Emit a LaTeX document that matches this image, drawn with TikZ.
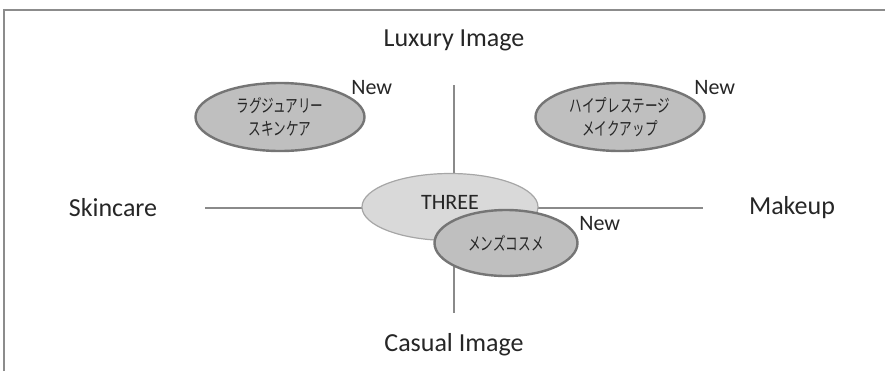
\documentclass[tikz,border=0pt]{standalone}
\usepackage{fontspec}
\setmainfont{Carlito}
\newfontfamily\jpfont{Noto Sans CJK JP}[FakeStretch=0.7]
\usetikzlibrary{shapes.geometric, positioning}
\definecolor{framegray}{HTML}{8C8C8C}
\definecolor{axisgray}{HTML}{8A8A8A}
\definecolor{ringgray}{HTML}{757575}
\definecolor{segfill}{HTML}{BFBFBF}
\definecolor{brandfill}{HTML}{D9D9D9}
\definecolor{brandring}{HTML}{A6A6A6}
\tikzstyle{axislabel} = [font=\fontsize{13}{15}\selectfont, text=black!85]
\tikzstyle{newtag} = [font=\fontsize{11}{13}\selectfont, text=black!85, inner sep=0pt]
\tikzstyle{segment} = [ellipse, minimum width=84.5pt, minimum height=34pt, inner sep=0pt, draw=ringgray, line width=1.2pt, fill=segfill, align=center, text=black!85, font=\jpfont\fontsize{9}{11.5}\selectfont]
\tikzstyle{brand} = [ellipse, minimum width=88pt, minimum height=33.5pt, inner sep=0pt, draw=brandring, line width=0.6pt, fill=brandfill, text=black!85, text height=8pt, text depth=6pt, font=\fontsize{11}{13}\selectfont]
\tikzstyle{axis} = [draw=axisgray, line width=0.6pt]
\tikzstyle{frame} = [draw=framegray, line width=0.9pt]

\begin{document}
\begin{tikzpicture}[x=0.5pt, y=-0.5pt]
\useasboundingbox (0,0) rectangle (885,371);
\draw [frame] (4,371) -- (4,10) -- (885,10);

\node (luxury) [axislabel] at (454,40) {Luxury Image};
\node (casual) [axislabel] at (454,345) {Casual Image};
\node (skincare) [axislabel] at (113,208) {Skincare};
\node (makeup) [axislabel] at (792,208) {Makeup};

\coordinate (ytop) at (454,85);
\coordinate (ybot) at (454,313);
\coordinate (xleft) at (205,208);
\coordinate (xright) at (703,208);
\draw [axis] (ytop) -- (ybot);
\draw [axis] (xleft) -- (xright);

\node (luxskin) [segment] at (280,117) {ラグジュアリー\\スキンケア};
\node (prestige) [segment] at (620,117) {ハイプレステージ\\メイクアップ};
\node (three) [brand] at (450,207) {THREE};
\node (mens) [segment, minimum width=71.5pt, minimum height=33pt] at (506,243) {メンズコスメ};

\node (newluxskin) [newtag, anchor=west] at (351,88) {New};
\node (newprestige) [newtag, anchor=west] at (694,88) {New};
\node (newmens) [newtag, anchor=west] at (579,224) {New};

\end{tikzpicture}
\end{document}
